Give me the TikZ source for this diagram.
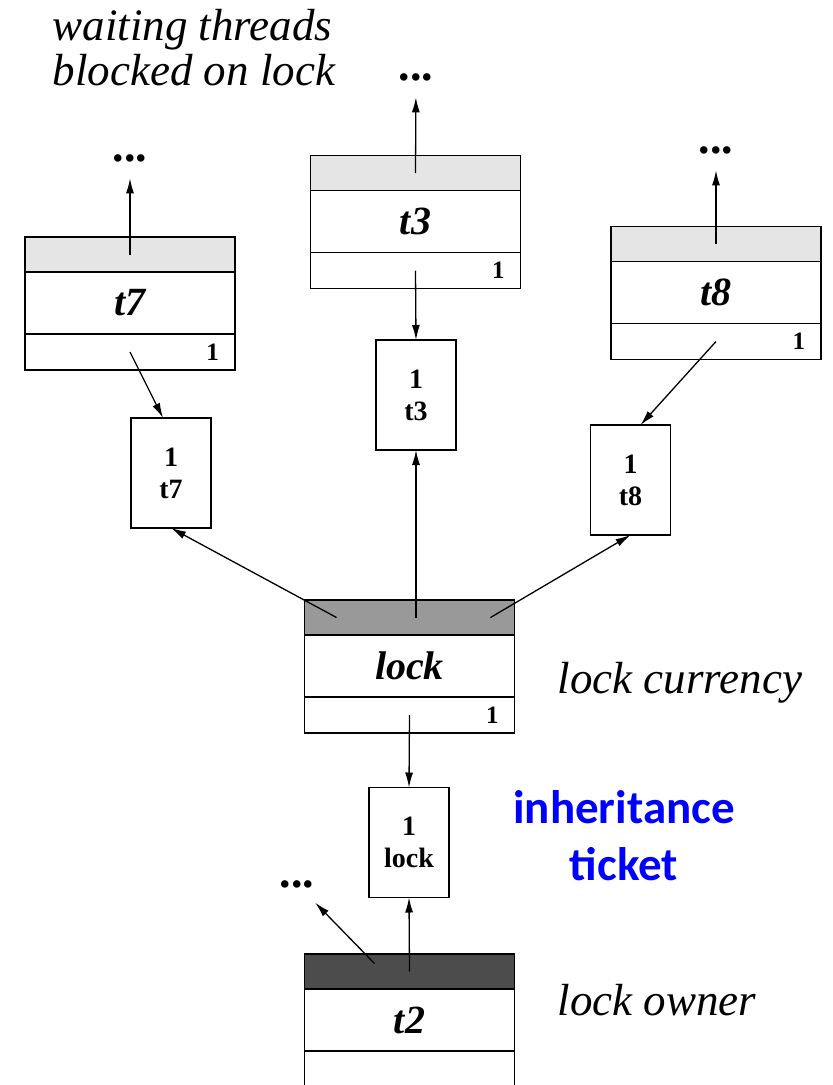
\documentclass[tikz,border=0pt]{standalone}
\usepackage{fontspec}
\setmainfont{Liberation Serif}
\newfontfamily\labelfont{Carlito}
\usepackage{tikz}
\usetikzlibrary{positioning,arrows.meta}

\definecolor{hdrlight}{gray}{0.9}
\definecolor{hdrmid}{gray}{0.6}
\definecolor{hdrdark}{gray}{0.3}

\begin{document}
\begin{tikzpicture}[x=1pt,y=-1pt,->,>={Latex[length=15pt,width=8pt]},line width=1.3pt]

    \tikzstyle{thdr}=[draw,rectangle,minimum width=210pt,minimum height=35pt,inner sep=0pt,outer sep=0pt]
    \tikzstyle{tname}=[draw,rectangle,minimum width=210pt,minimum height=62pt,inner sep=0pt,outer sep=0pt,font=\fontsize{40}{48}\selectfont\bfseries\itshape]
    \tikzstyle{tamt}=[draw,rectangle,text width=178pt,inner xsep=16pt,inner ysep=0pt,minimum height=36pt,outer sep=0pt,align=right,font=\fontsize{25}{28}\selectfont\bfseries]
    \tikzstyle{ticket}=[draw,rectangle,minimum width=80pt,minimum height=110pt,inner sep=0pt,outer sep=0pt,align=center,font=\fontsize{28}{32}\selectfont\bfseries]
    \tikzstyle{dots}=[inner sep=0pt,font=\fontsize{46}{48}\selectfont\bfseries]
    \tikzstyle{note}=[inner sep=0pt,align=left,font=\fontsize{45}{45}\selectfont\itshape]
    \tikzstyle{bluenote}=[inner sep=0pt,align=center,text=blue,font=\labelfont\fontsize{47}{57}\selectfont\bfseries]

    \useasboundingbox (0,0) rectangle (833,1085);

    % waiting threads
    \node[thdr,fill=hdrlight]         (t7h) at (130,254.5) {};
    \node[tname,below=0pt of t7h]     (t7)  {t7};
    \node[tamt,below=0pt of t7]       (t7a) {1};

    \node[thdr,fill=hdrlight]         (t3h) at (415.5,173) {};
    \node[tname,below=0pt of t3h]     (t3)  {t3};
    \node[tamt,below=0pt of t3]       (t3a) {1};

    \node[thdr,fill=hdrlight]         (t8h) at (716,244) {};
    \node[tname,below=0pt of t8h]     (t8)  {t8};
    \node[tamt,below=0pt of t8]       (t8a) {1};

    \node[dots] (d7) at (130,158) {...};
    \node[dots] (d3) at (416,77)  {...};
    \node[dots] (d8) at (716,150) {...};

    % tickets
    \node[ticket] (t7k) at (171,473)   {1\\t7};
    \node[ticket] (t3k) at (416,395)   {1\\t3};
    \node[ticket] (t8k) at (630.5,480) {1\\t8};

    % lock currency
    \node[thdr,fill=hdrmid]           (lockh) at (409.5,617.5) {};
    \node[tname,below=0pt of lockh]   (lock)  {lock};
    \node[tamt,below=0pt of lock]     (locka) {1};

    \node[ticket] (lk) at (409,842.5) {1\\lock};

    % owner
    \node[thdr,fill=hdrdark]          (t2h) at (409.5,971.5) {};
    \node[tname,below=0pt of t2h]     (t2)  {t2};
    \node[tamt,below=0pt of t2,minimum height=50pt] (t2a) {};

    \node[dots] (d2) at (297,884) {...};

    % labels
    \node[note,anchor=north west] (wait) at (52,9) {waiting threads\\blocked on lock};
    \node[note,anchor=base west]  (cur)  at (557,693)  {lock currency};
    \node[note,anchor=base west]  (own)  at (557,1015) {lock owner};
    \node[bluenote,anchor=north]  (inh)  at (624,790)  {inheritance\\ticket};

    \path
    (t7h.center)                 edge[shorten >=16pt] (d7)
    (t3h.center)                 edge[shorten >=16pt] (d3)
    (t8h.center)                 edge[shorten >=16pt] (d8)
    (t7a.center)                 edge ([xshift=-8pt]t7k.north)
    (t3a.center)                 edge (t3k.north)
    (t8a.center)                 edge ([xshift=10pt]t8k.north)
    (t3k.south |- lockh.center)  edge (t3k.south)
    ([xshift=32pt]lockh.west)    edge (t7k.south)
    ([xshift=-24pt]lockh.east)   edge (t8k.south)
    (locka.center)               edge (lk.north)
    (t2h.center)                 edge (lk.south)
    ([xshift=-35pt,yshift=8pt]t2h.center) edge[shorten >=20pt] (d2);

\end{tikzpicture}
\end{document}
